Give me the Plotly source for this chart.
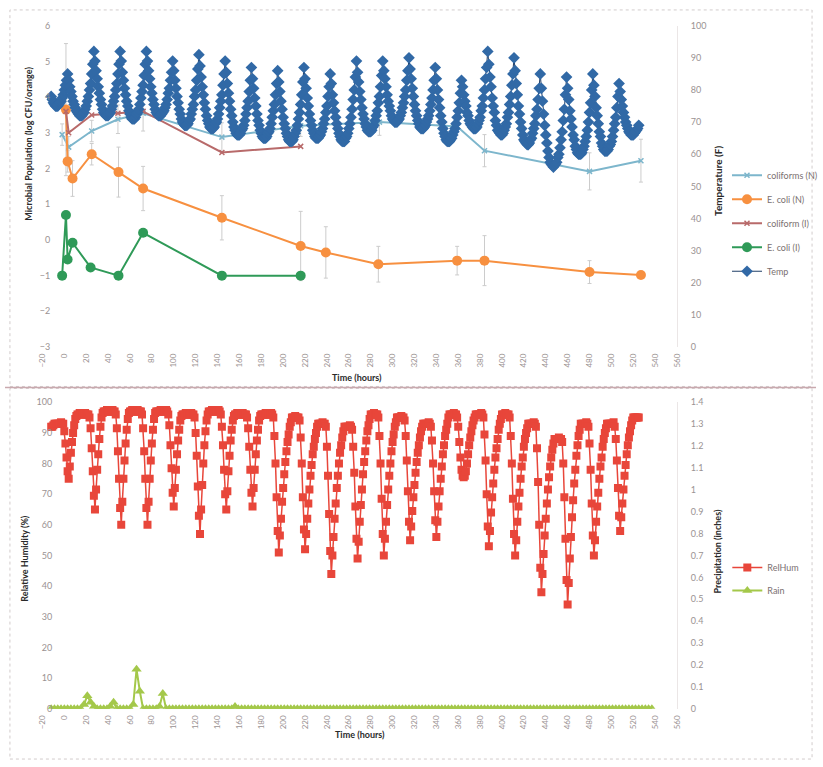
import plotly.graph_objects as go

W, H = 823, 767

# ---------------- top panel: microbial populations (log CFU/orange) ----------------
colN_hours = [-2, 4, 25, 49, 72, 144, 216, 288, 359, 384, 480, 527]
colN_log = [2.95, 2.6, 3.05, 3.38, 3.55, 2.88, 3.2, 3.3, 3.18, 2.5, 1.92, 2.22]
colN_err = [0.3, 0.3, 0.3, 0.4, 0.5, 0.4, 0.3, 0.37, 0.15, 0.45, 0.52, 0.6]

ecN_hours = [1.5, 3, 7.5, 25, 49.5, 72, 144, 216, 239, 287, 359, 384, 480, 527]
ecN_log = [3.65, 2.2, 1.72, 2.4, 1.9, 1.44, 0.62, -0.17, -0.35, -0.68, -0.58, -0.58, -0.9, -0.98]
ecN_err = [1.85, 0.3, 0.5, 0.3, 0.7, 0.62, 0.62, 0.97, 0.72, 0.5, 0.4, 0.7, 0.32, 0]

colI_hours = [1.5, 4, 25, 49, 72, 144, 216]
colI_log = [3.6, 3.0, 3.5, 3.55, 3.6, 2.45, 2.62]

ecI_hours = [-2, 1.5, 3, 7.5, 24, 49.5, 72, 144, 216]
ecI_log = [-1.0, 0.7, -0.55, -0.08, -0.77, -1.0, 0.2, -1.0, -1.0]

# temperature (F), hourly readings from -12 h to 525 h (one row per day, hour 0..23)
temp_hours = list(range(-12, 526))
temp_start = [78, 77, 76, 75.5, 75, 75, 75, 75.5, 76, 76.5, 77.5, 78.5]
temp_days = [
    [80, 81.5, 83, 85, 83, 81, 79.5, 78, 76.5, 75.5, 74.5, 73.5, 73, 72.5, 72, 72, 72, 72.5, 73, 74, 75, 76.5, 78, 80],
    [82, 85, 88, 92, 89, 86, 83.5, 81, 79, 77, 75.5, 74, 73, 72.5, 72, 72, 72, 72.5, 73, 74, 75, 76.5, 78, 80],
    [82, 85, 88, 92, 89, 85.5, 83, 80.5, 78.5, 76.5, 75, 73.5, 72.5, 71.5, 71, 71, 71, 71.5, 72.5, 73, 74, 75.5, 77.5, 79.5],
    [81.5, 84.5, 88, 92, 89, 86, 83.5, 81, 79, 77, 75.5, 74, 73, 72.5, 72, 72, 72, 72.5, 73, 73.5, 74.5, 75.5, 77, 79],
    [80.5, 83, 85.5, 89, 86, 83, 80.5, 78, 76, 74, 72.5, 71, 70, 69.5, 69, 69, 69, 69.5, 70.5, 71, 72.5, 74, 75.5, 78],
    [80, 83, 86.5, 91, 87.5, 84, 81, 78.5, 76, 74, 72, 70.5, 69.5, 68.5, 68, 68, 68, 68.5, 69.5, 70, 71, 72.5, 74.5, 76.5],
    [78.5, 81.5, 85, 89, 85.5, 82, 79, 76.5, 74, 72, 70, 68.5, 67.5, 66.5, 66, 66, 66, 66.5, 67.5, 68, 69, 70.5, 72.5, 74.5],
    [76.5, 79.5, 83, 87, 83.5, 80.5, 77.5, 75, 72.5, 70.5, 69, 67.5, 66.5, 65.5, 65, 65, 65, 65.5, 66.5, 67, 68, 69.5, 71.5, 73.5],
    [75.5, 78.5, 82, 86, 82.5, 79.5, 76.5, 74, 71.5, 69.5, 68, 66.5, 65.5, 64.5, 64, 64, 64, 64.5, 65.5, 66.5, 67.5, 69, 71, 73],
    [75.5, 78.5, 82.5, 87, 83.5, 80.5, 77.5, 75, 72.5, 70.5, 69, 67.5, 66.5, 65.5, 65, 65, 65, 65.5, 66, 67, 68, 69.5, 71, 73],
    [75, 78, 81, 85, 82, 78.5, 76, 73.5, 71.5, 69.5, 68, 66.5, 65.5, 64.5, 64, 64, 64, 65, 65.5, 66.5, 68, 69.5, 71.5, 74],
    [77, 80, 84, 89, 85.5, 82.5, 79.5, 77, 74.5, 72.5, 71, 69.5, 68.5, 67.5, 67, 67, 67, 67.5, 68.5, 69, 70.5, 72, 73.5, 76],
    [78, 81, 84.5, 89, 86, 83.5, 81, 78.5, 76.5, 75, 73.5, 72, 71, 70.5, 70, 70, 70, 70.5, 71, 72, 73, 74.5, 76, 78],
    [80, 83, 86, 90, 86.5, 83.5, 80.5, 78, 75.5, 73.5, 72, 70.5, 69.5, 68.5, 68, 68, 68, 68.5, 69, 70, 71, 72, 73.5, 75.5],
    [77.5, 80, 83, 87, 83.5, 80, 77, 74.5, 72, 70, 68, 66.5, 65.5, 64.5, 64, 64, 64, 64.5, 65, 66, 67, 68, 69.5, 71.5],
    [73.5, 76, 79, 83, 81, 78.5, 76.5, 75, 73, 72, 70.5, 69.5, 69, 68.5, 68, 68, 68, 68.5, 69.5, 70.5, 71.5, 73.5, 75, 77.5],
    [80, 83.5, 87, 92, 88, 84, 81, 77.5, 75, 73, 70.5, 69, 67.5, 67, 66.5, 66, 66, 66.5, 67.5, 68.5, 69.5, 71.5, 73, 75.5],
    [78, 81.5, 85, 90, 86, 82, 78.5, 75, 72.5, 70, 68, 66, 64.5, 64, 63.5, 63, 63, 63.5, 64.5, 65, 66.5, 68, 69.5, 72],
    [74, 77, 80.5, 85, 80.5, 76.5, 72.5, 69, 66, 63.5, 61, 59, 57.5, 57, 56.5, 56, 56.5, 57, 57.5, 59, 60, 62, 64.5, 67],
    [70.5, 74, 78.5, 84, 80.5, 77, 73.5, 71, 68.5, 66, 64.5, 62.5, 61.5, 60.5, 60, 60, 60, 60.5, 61.5, 62.5, 64, 65.5, 67.5, 70],
    [73, 76, 80, 85, 81.5, 78, 74.5, 72, 69.5, 67, 65.5, 63.5, 62.5, 61.5, 61, 61, 61, 61.5, 62.5, 63, 64, 65.5, 67.5, 69.5],
    [71.5, 74.5, 78, 82, 79.5, 77, 75, 73, 71.5, 70, 69, 68, 67, 66.5, 66, 66, 66, 66.5, 67, 67.5, 68, 69],
]
temp_F = temp_start + [v for day in temp_days for v in day]

# ---------------- bottom panel: relative humidity (%) and rain (inches) ----------------
rh_hours = list(range(-12, 526))
rh_start = [92, 92, 92.5, 93, 93, 93, 93, 93, 93, 93.5, 93, 93]
rh_days = [
    [90.5, 86.5, 82, 77.5, 75, 79, 83.5, 87, 90, 92.5, 94.5, 95.5, 96, 96, 96.5, 96.5, 96, 96, 96, 96.5, 96, 96, 96, 95],
    [91.5, 85, 77.5, 69.5, 65, 71.5, 78, 83, 88, 92, 95, 96.5, 97, 97, 97, 97.5, 97, 97, 97, 97, 97.5, 97, 97, 96],
    [91.5, 84, 75, 65.5, 60, 67.5, 75, 81, 86.5, 91, 94.5, 96.5, 97, 97, 97.5, 97, 97, 97, 97, 97.5, 97, 97, 97, 96],
    [91.5, 84, 75, 65.5, 60, 67.5, 75, 81, 86.5, 91, 94.5, 96.5, 97, 97, 97, 97, 97.5, 97, 97, 97, 97, 97.5, 97, 96],
    [92.5, 86, 78.5, 70.5, 66, 72, 78, 83, 87.5, 91, 94, 95.5, 96, 96, 96, 96.5, 96, 96, 96, 96, 96.5, 96, 96, 95],
    [90, 82.5, 72.5, 63, 57, 65, 73, 80, 86, 90.5, 94, 96, 97, 97, 97, 97.5, 97, 97, 97, 97, 97, 97.5, 97, 96],
    [92, 86, 78, 70, 65, 71, 77.5, 82.5, 87.5, 91, 94, 95.5, 96, 96, 96.5, 96, 96, 96, 96, 96.5, 96, 96, 96, 95],
    [91.5, 85.5, 78, 70.5, 66, 72, 78, 83, 87.5, 91, 94, 95.5, 96, 96, 96, 96, 96.5, 96, 96, 96, 96, 96.5, 96, 95],
    [89, 80, 69, 58, 51, 56.5, 62, 67.5, 72, 76.5, 80.5, 84, 87, 89.5, 92, 93.5, 95, 95, 95, 95.5, 95, 95, 95, 94],
    [88.5, 80, 69, 58.5, 52, 57, 62, 67, 71.5, 76, 79.5, 83, 85.5, 88, 90, 92, 93, 93, 93, 93, 93.5, 93, 93, 92],
    [85.5, 76, 63.5, 51.5, 44, 50, 56, 62, 67, 72, 76, 80, 83.5, 86, 88.5, 90.5, 92, 92, 92, 92, 92, 92.5, 92, 91],
    [85.5, 77, 66, 55.5, 49, 54.5, 61, 66.5, 71.5, 76.5, 80.5, 84, 87.5, 90.5, 92.5, 94.5, 96, 96, 96, 96.5, 96, 96, 96, 95],
    [89, 80, 68.5, 57, 50, 55.5, 61, 66.5, 71.5, 76, 80, 84, 87, 89.5, 92, 93.5, 95, 95, 95, 95, 95.5, 95, 95, 94],
    [89, 81, 71, 61, 55, 59.5, 64.5, 69, 73, 77, 80.5, 83.5, 86, 88.5, 90.5, 92, 93, 93, 93, 93, 93, 93.5, 93, 92],
    [87.5, 80, 71, 61.5, 56, 61, 66, 71, 75, 79, 83, 86, 89, 91, 93, 95, 96, 96, 96, 96, 96.5, 96, 96, 95],
    [92, 87, 82, 78, 76, 75.5, 76, 77.5, 80, 83, 86, 88.5, 90.5, 92.5, 94, 95, 96, 96, 96, 96, 96, 96.5, 96, 95],
    [89.5, 81, 70, 59.5, 53, 58, 64, 69, 73.5, 78, 82, 85, 88, 91, 93, 94.5, 96, 96, 96, 96.5, 96, 96, 96, 95],
    [89, 80, 68.5, 57, 50, 55, 61, 66, 70.5, 75, 79, 82, 85.5, 88, 90, 91.5, 93, 93, 93, 93, 93, 93.5, 93, 92],
    [85, 74, 60, 46, 38, 44, 50.5, 56.5, 62, 67, 71.5, 75.5, 79, 82, 84.5, 86.5, 88, 88, 88, 88, 88.5, 88, 88, 87],
    [80, 69, 55.5, 42, 34, 41, 49, 56, 62.5, 68, 73.5, 78, 82.5, 86, 89, 91, 93, 93, 93, 93, 93, 93.5, 93, 92],
    [86.5, 78, 67, 56.5, 50, 55, 61, 66, 70.5, 75, 79, 82, 85.5, 88, 90, 91.5, 93, 93, 93, 93, 93, 93, 93.5, 92],
    [88, 81, 72, 63, 58, 62.5, 67, 71.5, 76, 79.5, 83, 86, 88.5, 90.5, 92.5, 94, 95, 95, 95, 95, 95, 95],
]
rh_pct = rh_start + [v for day in rh_days for v in day]

# rain (inches), 3-hourly readings from -12 h to 537 h (8 readings per row)
rain_hours = list(range(-12, 538, 3))
rain_days = [
    [0, 0, 0, 0, 0, 0, 0, 0],
    [0, 0, 0.02, 0.06, 0.03, 0.01, 0, 0],
    [0, 0, 0.01, 0.03, 0, 0, 0, 0],
    [0, 0.02, 0.18, 0.08, 0, 0, 0, 0],
    [0, 0.01, 0.07, 0, 0, 0, 0, 0],
    [0, 0, 0, 0, 0, 0, 0, 0],
    [0, 0, 0, 0, 0, 0, 0, 0],
    [0.01, 0, 0, 0, 0, 0, 0, 0],
    [0, 0, 0, 0, 0, 0, 0, 0],
    [0, 0, 0, 0, 0, 0, 0, 0],
    [0, 0, 0, 0, 0, 0, 0, 0],
    [0, 0, 0, 0, 0, 0, 0, 0],
    [0, 0, 0, 0, 0, 0, 0, 0],
    [0, 0, 0, 0, 0, 0, 0, 0],
    [0, 0, 0, 0, 0, 0, 0, 0],
    [0, 0, 0, 0, 0, 0, 0, 0],
    [0, 0, 0, 0, 0, 0, 0, 0],
    [0, 0, 0, 0, 0, 0, 0, 0],
    [0, 0, 0, 0, 0, 0, 0, 0],
    [0, 0, 0, 0, 0, 0, 0, 0],
    [0, 0, 0, 0, 0, 0, 0, 0],
    [0, 0, 0, 0, 0, 0, 0, 0],
    [0, 0, 0, 0, 0, 0, 0, 0],
]
rain_in = [v for day in rain_days for v in day]

# ---------------- styling ----------------
FONT = "Lato"
TICK_COL = "#9a9292"
TITLE_COL = "#2a2a2a"
ERR_COL = "#cccccc"

C_COLN = "#7db6cc"
C_ECN = "#f79040"
C_COLI = "#b86a6a"
C_ECI = "#2f9a58"
C_TEMP = "#3169a6"
C_RH = "#e8463a"
C_RAIN = "#a4c84a"

def px_x(p):
    return p / W

def px_y(p):
    return 1 - p / H

XDOM = [px_x(38), px_x(682)]
TOP_DOM = [px_y(346), px_y(20)]
BOT_DOM = [px_y(713), px_y(402)]

fig = go.Figure()

fig.add_trace(go.Scatter(
    x=colN_hours, y=colN_log, name="coliforms (N)", mode="lines+markers",
    line=dict(color=C_COLN, width=2), marker=dict(symbol="x-thin", size=5, color=C_COLN,
    line=dict(color=C_COLN, width=1.5)),
    error_y=dict(type="data", array=colN_err, color=ERR_COL, thickness=1, width=2),
    xaxis="x", yaxis="y", legend="legend", legendgroup="a"))
fig.add_trace(go.Scatter(
    x=ecN_hours, y=ecN_log, name="E. coli (N)", mode="lines+markers",
    line=dict(color=C_ECN, width=2), marker=dict(symbol="circle", size=10, color=C_ECN),
    error_y=dict(type="data", array=ecN_err, color=ERR_COL, thickness=1, width=2),
    xaxis="x", yaxis="y", legend="legend", legendgroup="b"))
fig.add_trace(go.Scatter(
    x=colI_hours, y=colI_log, name="coliform (I)", mode="lines+markers",
    line=dict(color=C_COLI, width=2), marker=dict(symbol="x-thin", size=5, color=C_COLI,
    line=dict(color=C_COLI, width=1.5)),
    xaxis="x", yaxis="y", legend="legend", legendgroup="c"))
fig.add_trace(go.Scatter(
    x=ecI_hours, y=ecI_log, name="E. coli (I)", mode="lines+markers",
    line=dict(color=C_ECI, width=2), marker=dict(symbol="circle", size=10, color=C_ECI),
    xaxis="x", yaxis="y", legend="legend", legendgroup="d"))
fig.add_trace(go.Scatter(
    x=temp_hours, y=temp_F, name="Temp", mode="lines+markers",
    line=dict(color="#1f3d66", width=1), marker=dict(symbol="diamond", size=9, color=C_TEMP),
    xaxis="x", yaxis="y2", legend="legend", legendgroup="e"))

fig.add_trace(go.Scatter(
    x=rh_hours, y=rh_pct, name="RelHum", mode="lines+markers",
    line=dict(color=C_RH, width=1.5), marker=dict(symbol="square", size=8, color=C_RH),
    xaxis="x2", yaxis="y3", legend="legend2", legendgroup="f"))
fig.add_trace(go.Scatter(
    x=rain_hours, y=rain_in, name="Rain", mode="lines+markers",
    line=dict(color=C_RAIN, width=2), marker=dict(symbol="triangle-up", size=9, color=C_RAIN),
    xaxis="x2", yaxis="y4", legend="legend2", legendgroup="g"))

tickfont = dict(family=FONT, size=9, color=TICK_COL)
xtickfont = dict(family=FONT, size=8, color=TICK_COL)

xcommon = dict(domain=XDOM, range=[-20, 560], tick0=-20, dtick=20, tickangle=-90,
               showgrid=False, zeroline=False, showline=False, ticks="",
               tickfont=xtickfont, ticklabelstandoff=4)

fig.update_layout(
    width=W, height=H, margin=dict(l=0, r=0, t=0, b=0),
    paper_bgcolor="white", plot_bgcolor="white",
    font=dict(family=FONT),
    xaxis=dict(anchor="y", **xcommon),
    yaxis=dict(domain=TOP_DOM, range=[-3, 6], dtick=1, anchor="free", position=px_x(60),
               side="left", showgrid=False, zeroline=False, showline=False, ticks="",
               tickfont=tickfont, ticklabelstandoff=14),
    yaxis2=dict(overlaying="y", side="right", anchor="x", range=[0, 100], dtick=10,
                showgrid=False, zeroline=False, showline=True, linecolor="#ebe6e6",
                ticks="", tickfont=tickfont, ticklabelstandoff=11),
    xaxis2=dict(anchor="y3", **xcommon),
    yaxis3=dict(domain=BOT_DOM, range=[0, 100], dtick=10, anchor="free", position=px_x(60),
                side="left", showgrid=False, zeroline=False, showline=False, ticks="",
                tickfont=tickfont, ticklabelstandoff=12),
    yaxis4=dict(overlaying="y3", side="right", anchor="x2", range=[0, 1.4], dtick=0.1,
                showgrid=False, zeroline=False, showline=True, linecolor="#ebe6e6",
                ticks="", tickfont=tickfont, ticklabelstandoff=11),
    legend=dict(x=px_x(733), y=px_y(157), xanchor="left", yanchor="top",
                font=dict(family=FONT, size=9, color="#7a7070"), bgcolor="rgba(0,0,0,0)",
                itemwidth=30, tracegroupgap=5),
    legend2=dict(x=px_x(733), y=px_y(555), xanchor="left", yanchor="top",
                 font=dict(family=FONT, size=9, color="#7a7070"), bgcolor="rgba(0,0,0,0)",
                 itemwidth=30, tracegroupgap=4),
    showlegend=True,
)

def title_ann(text, x, y, angle=0, size=9):
    fig.add_annotation(text="<b>%s</b>" % text, x=px_x(x), y=px_y(y), xref="paper", yref="paper",
                       xanchor="center", yanchor="middle",
                       showarrow=False, textangle=angle,
                       font=dict(family=FONT, size=size, color=TITLE_COL))

title_ann("Microbial Population (log CFU/orange)", 24, 140, -90, 9)
title_ann("Temperature (F)", 724, 177, -90, 10)
title_ann("Time (hours)", 357, 377, 0, 9)
title_ann("Relative Humidity (%)", 20, 561, -90, 9)
title_ann("Precipitation (inches)", 723, 553, -90, 9)
title_ann("Time (hours)", 360, 739, 0, 9)

# chart frames
fig.add_shape(type="rect", xref="paper", yref="paper", x0=px_x(5), x1=px_x(819),
              y0=px_y(386), y1=px_y(4), line=dict(color="#d2cccc", width=1, dash="dot"))
fig.add_shape(type="rect", xref="paper", yref="paper", x0=px_x(5), x1=px_x(819),
              y0=px_y(764), y1=px_y(388), line=dict(color="#d2cccc", width=1, dash="dot"))
fig.add_shape(type="line", xref="paper", yref="paper", x0=0, x1=1,
              y0=px_y(387), y1=px_y(387), line=dict(color="#c9a9ae", width=1.5))

fig.write_html("out.html")
